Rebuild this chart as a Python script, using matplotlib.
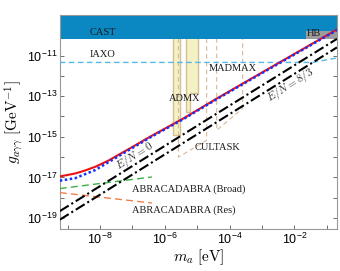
import matplotlib
matplotlib.use('Agg')
import matplotlib.pyplot as plt
import matplotlib.ticker as mticker
import numpy as np

plt.rcParams['mathtext.fontset'] = 'custom'
plt.rcParams['mathtext.rm'] = 'Liberation Sans'
plt.rcParams['mathtext.it'] = 'Liberation Sans:italic'
plt.rcParams['mathtext.bf'] = 'Liberation Sans:bold'
plt.rcParams['font.family'] = 'Liberation Serif'

# ---------------- data (log10 values) ----------------
xlim_log = [-9.24, -0.69]
ylim_log = [-19.54, -9.0]

cast_log = -10.18
hb_logm = [-1.64, -0.69]
hb_logg = [-10.18, -9.77]

iaxo_logm = [-9.24, -1.45, -0.69]
iaxo_logg = [-11.34, -11.34, -11.12]

# red solid and blue dotted curves
red_logm = [-9.24, -9.0, -8.75, -8.5, -8.15, -7.75, -7.0, -6.46, -5.43, -4.40, -3.16, -0.69]
red_logg = [-16.95, -16.88, -16.8, -16.68, -16.48, -16.18, -15.5, -15.0, -14.1, -13.12, -11.98, -9.72]
blue_logm = [-9.24, -8.77, -8.15, -7.74, -7.0, -6.46, -5.43, -4.40, -3.16, -0.69]
blue_logg = [-17.16, -17.04, -16.64, -16.25, -15.55, -15.04, -14.13, -13.15, -12.01, -9.75]

# E/N lines
en0_logm = [-9.24, -0.69]
en0_logg = [-18.66, -10.18]
en83_logm = [-9.24, -0.69]
en83_logg = [-19.08, -10.6]

# ADMX bands
admx1_logm = [-5.74, -5.53]
admx1_low = -14.91
admx2_logm = [-5.355, -5.22, -4.966]
admx2_low = [-13.77, -12.85, -12.85]

# CULTASK and MADMAX projected regions (outline)
cultask_logm = [-5.58, -5.58, -4.71, -4.71]
cultask_logg = [-9.0, -16.0, -15.17, -9.0]
madmax_logm = [-4.40, -4.40, -3.60, -3.60]
madmax_logg = [-9.0, -14.68, -13.6, -9.0]

# ABRACADABRA
abra_b_logm = [-9.24, -6.4]
abra_b_logg = [-17.55, -16.98]
abra_r_logm = [-9.24, -6.4]
abra_r_logg = [-17.75, -18.26]

p = lambda a: 10.0 ** np.asarray(a)

fig = plt.figure(figsize=(3.4, 2.71), dpi=100)
ax = fig.add_axes([0.176, 0.155, 0.815, 0.79])
ax.set_xscale('log')
ax.set_yscale('log')
ax.set_xlim(p(xlim_log))
ax.set_ylim(p(ylim_log))

tan = '#d4bf94'
# ADMX
ax.fill_between(p(admx1_logm), p(admx1_low), p(ylim_log[1]), color='#f4f1c4',
                edgecolor=tan, lw=1.0, zorder=1)
ax.fill_between(p(admx2_logm), p(admx2_low), p(ylim_log[1]), step='post',
                color='#f4f1c4', edgecolor=tan, lw=1.0, zorder=1)

# CULTASK / MADMAX
dash_c = '#d6b996'
ax.plot(p(cultask_logm), p(cultask_logg), color=dash_c, ls=(0, (4, 3)), lw=0.8, zorder=1.5)
ax.plot(p(madmax_logm), p(madmax_logg), color=dash_c, ls=(0, (4, 3)), lw=0.8, zorder=1.5)

# CAST and HB
ax.fill_between(p(xlim_log), p(cast_log), p(ylim_log[1]), color='#0b88c2', lw=0, zorder=2)
ax.fill_between(p(hb_logm), p(hb_logg[0]), p(hb_logg[1]), color='#9c9c9c', lw=0, zorder=2.5)

# IAXO
ax.plot(p(iaxo_logm), p(iaxo_logg), color='#55b8e8', ls=(0, (4, 2.5)), lw=1.0, zorder=3)

# ABRACADABRA
ax.plot(p(abra_b_logm), p(abra_b_logg), color='#3cb043', ls=(0, (5, 3)), lw=1.0, zorder=3)
ax.plot(p(abra_r_logm), p(abra_r_logg), color='#f0804a', ls=(0, (5, 3)), lw=1.0, zorder=3)

# E/N lines
ax.plot(p(en0_logm), p(en0_logg), color='k', ls=(0, (5, 1.5, 1, 1.5)), lw=1.5, zorder=4)
ax.plot(p(en83_logm), p(en83_logg), color='k', ls=(0, (5, 1.5, 1, 1.5)), lw=1.5, zorder=4)

# red / blue curves
ax.plot(p(red_logm), p(red_logg), color='#ee1111', lw=1.5, zorder=5)
ax.plot(p(blue_logm), p(blue_logg), color='#1133ff', ls=(0, (1, 1)), lw=1.8, zorder=6)

# labels
tk = dict(fontsize=7.5, color='#1a1a1a', va='center', ha='left', zorder=7)
ax.text(p(-8.31), p(-9.87), 'CAST', **tk)
ax.text(p(-8.31), p(-10.95), 'IAXO', **tk)
ax.text(p(-1.62), p(-9.93), 'HB', **tk)
ax.text(p(-4.63), p(-11.65), 'MADMAX', **tk)
ax.text(p(-5.89), p(-13.12), 'ADMX', **tk)
ax.text(p(-5.07), p(-15.53), 'CULTASK', **tk)
ax.text(p(-7.0), p(-17.58), 'ABRACADABRA (Broad)', **tk)
ax.text(p(-7.0), p(-18.6), 'ABRACADABRA (Res)', **tk)
ax.text(p(-6.92), p(-15.95), r'$E/N=0$', fontsize=8, rotation=32, ha='center', va='center',
        math_fontfamily='cm', color='#333333', zorder=7)
ax.text(p(-2.14), p(-12.47), r'$E/N=8/3$', fontsize=8, rotation=32, ha='center', va='center',
        math_fontfamily='cm', color='#333333', zorder=7)

ax.set_xlabel(r'$m_a\ [\mathrm{eV}]$', fontsize=11, math_fontfamily='cm', labelpad=0)
ax.set_ylabel(r'$g_{a\gamma\gamma}\ [\mathrm{GeV}^{-1}]$', fontsize=11, math_fontfamily='cm', labelpad=1)

ax.xaxis.set_major_locator(mticker.LogLocator(base=10, numticks=20))
ax.yaxis.set_major_locator(mticker.LogLocator(base=10, numticks=30))
ax.xaxis.set_minor_locator(mticker.NullLocator())
ax.yaxis.set_minor_locator(mticker.NullLocator())


def xfmt(v, pos):
    e = int(round(np.log10(v)))
    return r'$10^{%d}$' % e if e % 2 == 0 else ''


def yfmt(v, pos):
    e = int(round(np.log10(v)))
    return r'$10^{%d}$' % e if (e % 2 != 0 and e < -9) else ''


ax.xaxis.set_major_formatter(mticker.FuncFormatter(xfmt))
ax.yaxis.set_major_formatter(mticker.FuncFormatter(yfmt))
ax.tick_params(which='both', direction='in', top=True, right=True, length=3,
               width=0.6, color='#555555', labelsize=9, pad=2)
for s in ax.spines.values():
    s.set_color('#999999')
    s.set_linewidth(0.8)

fig.savefig('out.png', dpi=100)
